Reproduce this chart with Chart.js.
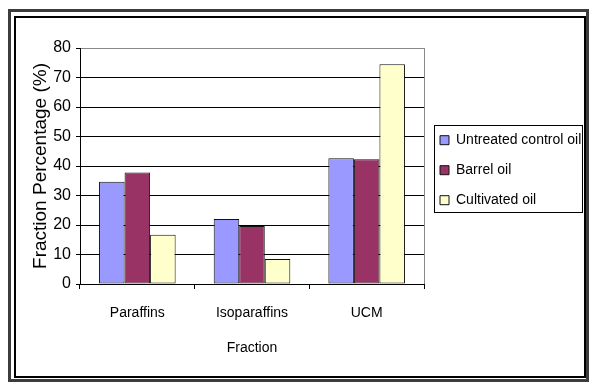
<!DOCTYPE html>
<html>
<head>
<meta charset="utf-8">
<script src="https://cdn.jsdelivr.net/npm/chart.js@4/dist/chart.umd.min.js"></script>
<style>
  html, body { margin: 0; padding: 0; background: #fff; }
  #wrap { position: relative; width: 589px; height: 382px; overflow: hidden; }
  #chart { position: absolute; left: 0; top: 0; }
  .frame { position: absolute; box-sizing: border-box; pointer-events: none; }
  #outer { left: 8px; top: 9px; width: 581px; height: 373px; border: 3px solid #3c3c3c; }
  #inner { left: 14px; top: 16px; width: 572px; height: 362px; border: 2px solid #000; }
</style>
</head>
<body>
<div id="wrap">
  <canvas id="chart" width="589" height="382"></canvas>
  <div class="frame" id="outer"></div>
  <div class="frame" id="inner"></div>
</div>
<script>
// fractions per oil sample (%)
const fractions = ['Paraffins', 'Isoparaffins', 'UCM'];
const untreatedOil = [34.7, 22.0, 42.6];
const barrelOil = [37.8, 19.7, 42.3];
const cultivatedOil = [16.7, 8.5, 74.5];
const yTicks = [0, 10, 20, 30, 40, 50, 60, 70, 80];

const sans = "'Liberation Sans', Arial, sans-serif";

// grey right edge of the plot + box round the legend
const framePlugin = {
    id: 'framePlugin',
    afterDraw(chart) {
        const ctx = chart.ctx;
        const a = chart.chartArea;
        ctx.save();
        ctx.strokeStyle = '#888';
        ctx.lineWidth = 1;
        ctx.beginPath();
        ctx.moveTo(Math.round(a.right) + 0.5, a.top);
        ctx.lineTo(Math.round(a.right) + 0.5, a.bottom);
        ctx.stroke();

        const boxes = chart.legend.legendHitBoxes;
        if (boxes && boxes.length) {
            const left = Math.min(...boxes.map(b => b.left)) - 6;
            const top = Math.min(...boxes.map(b => b.top)) - 8;
            const bottom = Math.max(...boxes.map(b => b.top + b.height)) + 5;
            ctx.strokeStyle = '#000';
            ctx.strokeRect(Math.round(left) + 0.5, Math.round(top) + 0.5, 148, Math.round(bottom - top));
        }
        ctx.restore();
    }
};

new Chart(document.getElementById('chart'), {
    type: 'bar',
    data: {
        labels: fractions,
        datasets: [
            { label: 'Untreated control oil', data: untreatedOil, backgroundColor: '#9999ff' },
            { label: 'Barrel oil', data: barrelOil, backgroundColor: '#993366' },
            { label: 'Cultivated oil', data: cultivatedOil, backgroundColor: '#ffffcc' }
        ]
    },
    options: {
        responsive: false,
        animation: false,
        devicePixelRatio: 1,
        layout: { padding: { left: 22, top: 48, right: 0, bottom: 18 } },
        datasets: {
            bar: {
                categoryPercentage: 0.668,
                barPercentage: 1.0,
                borderColor: '#111',
                borderWidth: 1,
                borderSkipped: false
            }
        },
        plugins: {
            tooltip: { enabled: false },
            legend: {
                position: 'right',
                fullSize: false,
                maxWidth: 165,
                // empty title only pushes the items a little lower
                title: { display: true, text: '', font: { size: 2 }, padding: 3 },
                labels: {
                    color: '#000',
                    font: { family: sans, size: 14 },
                    boxWidth: 9,
                    boxHeight: 9,
                    padding: 16,
                    generateLabels(chart) {
                        return chart.data.datasets.map((ds, i) => ({
                            text: ds.label,
                            fillStyle: ds.backgroundColor,
                            strokeStyle: '#111',
                            lineWidth: 1,
                            datasetIndex: i,
                            fontColor: '#000'
                        }));
                    }
                }
            }
        },
        scales: {
            x: {
                afterFit(s) { s.height = 80; },
                grid: {
                    drawOnChartArea: false,
                    drawTicks: true,
                    tickLength: 5,
                    color: '#000'
                },
                border: { color: '#000', width: 1 },
                ticks: {
                    color: '#000',
                    padding: 16,
                    font: { family: sans, size: 14 }
                },
                title: {
                    display: true,
                    text: 'Fraction',
                    color: '#000',
                    font: { family: sans, size: 14 },
                    padding: { top: 0, bottom: 7 }
                }
            },
            y: {
                min: 0,
                max: 80,
                afterFit(s) { s.width = 58; },
                afterBuildTicks(s) { s.ticks = yTicks.map(v => ({ value: v })); },
                grid: {
                    color: ctx => (ctx.tick && ctx.tick.value === 80) ? '#888' : '#000',
                    tickColor: '#000',
                    tickLength: 4
                },
                border: { color: '#000', width: 1 },
                ticks: {
                    color: '#000',
                    padding: 5,
                    font: { family: sans, size: 16 }
                },
                title: {
                    display: true,
                    text: 'Fraction Percentage (%)',
                    color: '#000',
                    font: { family: sans, size: 19 },
                    padding: { top: 7, bottom: 0 }
                }
            }
        }
    },
    plugins: [framePlugin]
});
</script>
</body>
</html>
